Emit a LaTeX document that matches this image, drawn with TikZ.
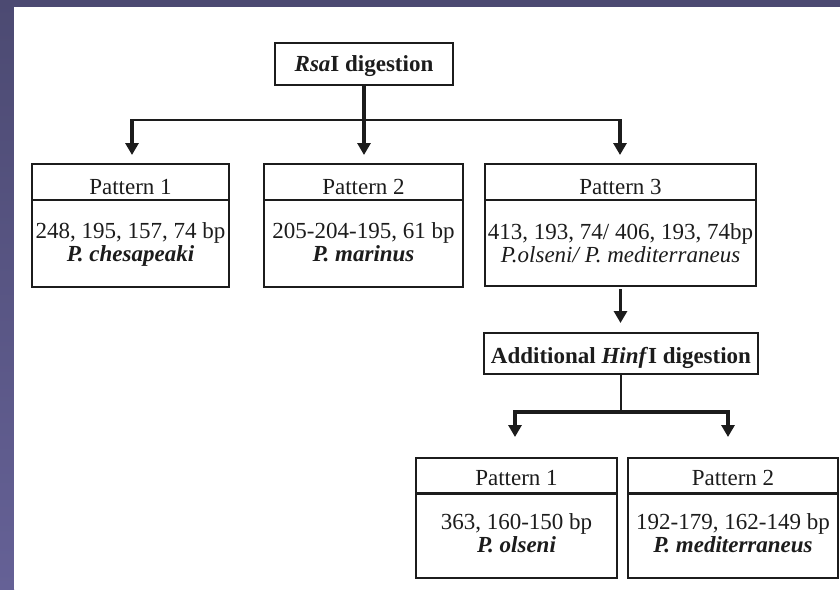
\documentclass[tikz,border=0pt]{standalone}
\usepackage{fontspec}
\setmainfont{Liberation Serif}
\usetikzlibrary{arrows.meta}
\definecolor{bgdark}{HTML}{4C4A72}
\definecolor{bglight}{HTML}{656196}
\definecolor{ink}{HTML}{1C1C1C}
\begin{document}
\begin{tikzpicture}[x=1pt,y=-1pt,
  box/.style={draw=ink, line width=1.4pt, rectangle, inner sep=0pt, outer sep=0pt},
  sepline/.style={draw=ink, line width=1.4pt},
  septhick/.style={draw=ink, line width=3pt},
  txt/.style={anchor=base, inner sep=0pt, text=ink, font=\fontsize{23}{25}\selectfont},
  bi/.style={txt, font=\fontsize{23}{25}\selectfont\bfseries\itshape},
  it/.style={txt, font=\fontsize{23}{25}\selectfont\itshape},
  conn/.style={draw=ink, line width=3.4pt},
  thinconn/.style={draw=ink, line width=1.6pt},
  hline/.style={draw=ink, line width=2.2pt, line cap=rect},
  arr/.style={conn, -{Triangle[length=12pt,width=13pt]}, shorten <=-1pt}
]
% background
\fill[bgdark] (0,0) rectangle (840,589);
\shade[top color=bgdark, bottom color=bglight] (0,0) rectangle (14,589);
\fill[white] (14,7) rectangle (840,589);
\useasboundingbox (0,0) rectangle (840,589);

% RsaI box
\node[box, line width=2pt, minimum width=178pt, minimum height=42pt,
      text height=16pt, text depth=2pt, text=ink,
      font=\fontsize{23}{25}\selectfont\bfseries] (rsa) at (364,64) {\textit{Rsa}I digestion};

% top pattern boxes
\node[box, minimum width=197pt, minimum height=123pt] (p1) at (130.5,225.5) {};
\draw[sepline] (32,200) -- (229,200);
\node[txt] (p1h) at (130.5,194) {Pattern 1};
\node[txt] (p1a) at (130.5,238) {248, 195, 157, 74 bp};
\node[bi]  (p1b) at (130.5,261) {P. chesapeaki};

\node[box, minimum width=199pt, minimum height=123pt] (p2) at (363.5,225.5) {};
\draw[sepline] (264,200) -- (463,200);
\node[txt] (p2h) at (363.5,194) {Pattern 2};
\node[txt] (p2a) at (363.5,238) {205-204-195, 61 bp};
\node[bi]  (p2b) at (363.5,261) {P. marinus};

\node[box, minimum width=271pt, minimum height=122pt] (p3) at (620.5,225) {};
\draw[sepline] (485,200) -- (756,200);
\node[txt] (p3h) at (620.5,194) {Pattern 3};
\node[txt] (p3a) at (620.5,239) {413, 193, 74/ 406, 193, 74bp};
\node[it]  (p3b) at (620.5,262) {P.olseni/ P. mediterraneus};

% HinfI box
\node[box, minimum width=274pt, minimum height=41pt,
      text height=20pt, text depth=0pt, text=ink,
      font=\fontsize{23}{25}\selectfont\bfseries] (hinf) at (621,353.5) {Additional \textit{Hinf}I digestion};

% bottom boxes
\node[box, minimum width=201pt, minimum height=120pt] (q1) at (516.5,518) {};
\draw[septhick] (416,493) -- (617,493);
\node[txt] (q1h) at (516.5,485) {Pattern 1};
\node[txt] (q1a) at (516.5,529) {363, 160-150 bp};
\node[bi]  (q1b) at (516.5,552) {P. olseni};

\node[box, minimum width=210pt, minimum height=120pt] (q2) at (733,518) {};
\draw[septhick] (628,493) -- (838,493);
\node[txt] (q2h) at (733,485) {Pattern 2};
\node[txt] (q2a) at (733,529) {192-179, 162-149 bp};
\node[bi]  (q2b) at (733,552) {P. mediterraneus};

% connectors top
\coordinate (j1) at (132,120);
\coordinate (j3) at (620,120);
\draw[hline] (j1) -- (j3);
\draw[arr, shorten >=9pt] (j1) -- (j1 |- p1.north);
\draw[arr, shorten <=0pt, shorten >=9pt] (rsa.south) -- (rsa.south |- p2.north);
\draw[arr, shorten >=9pt] (j3) -- (j3 |- p3.north);

% pattern 3 to HinfI
\draw[arr, shorten <=3pt, shorten >=10pt] (p3.south) -- (p3.south |- hinf.north);

% HinfI split
\coordinate (k0) at (621,412);
\coordinate (k1) at (515,412);
\coordinate (k2) at (728,412);
\draw[thinconn] (hinf.south) -- (k0);
\draw[conn, line cap=rect] (k1) -- (k2);
\draw[arr, shorten >=21pt] (k1) -- (k1 |- q1.north);
\draw[arr, shorten >=21pt] (k2) -- (k2 |- q2.north);
\end{tikzpicture}
\end{document}
